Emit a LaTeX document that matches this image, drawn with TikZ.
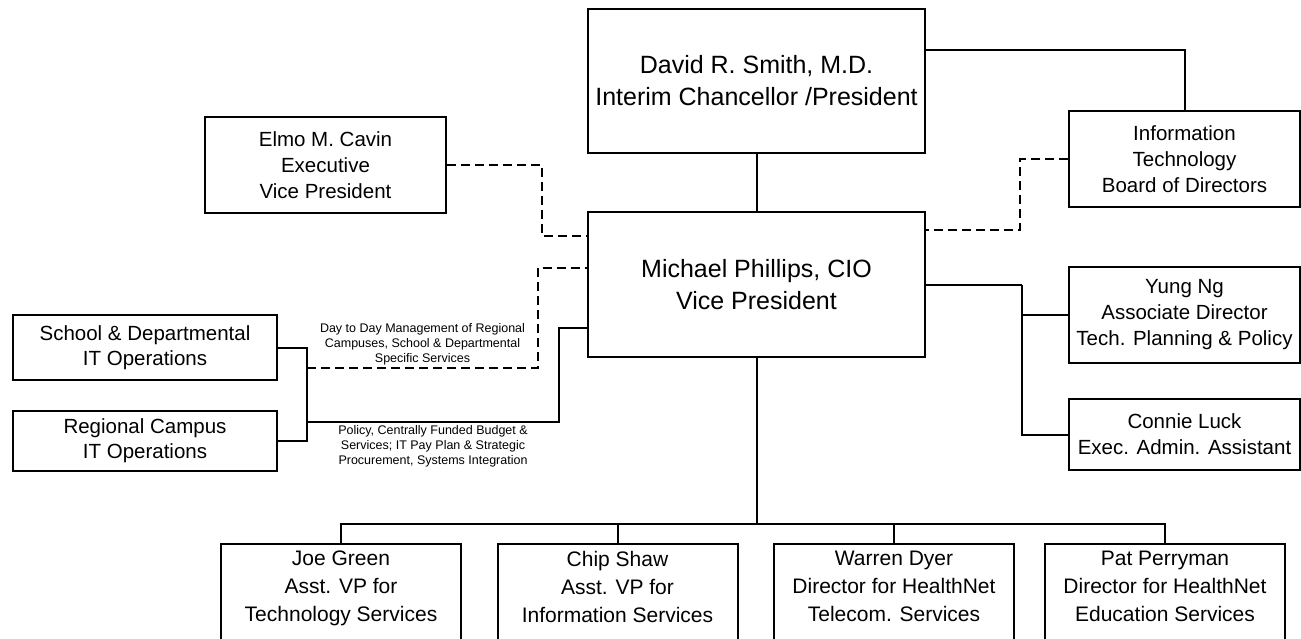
\documentclass[tikz,border=0pt]{standalone}
\usepackage{fontspec}
\setmainfont{Liberation Sans}
\usetikzlibrary{positioning, calc}

\begin{document}
\begin{tikzpicture}[x=1pt,y=-1pt,line width=2pt,
    box/.style={draw, rectangle, align=center, inner sep=0pt},
    bigbox/.style={box, minimum width=337pt, minimum height=144pt, font=\fontsize{25}{32}\selectfont},
    midbox/.style={box, minimum width=231pt, minimum height=96pt, font=\fontsize{20.5}{26}\selectfont},
    unitbox/.style={box, minimum width=264pt, font=\fontsize{20.5}{25}\selectfont},
    lowbox/.style={box, minimum width=240pt, minimum height=110pt, anchor=north},
    lowtext/.style={anchor=north, align=center, inner sep=0pt, yshift=-7pt, font=\fontsize{21}{28}\selectfont},
    dotted link/.style={dash pattern=on 9pt off 5pt},
    note/.style={font=\fontsize{12.5}{15}\selectfont, align=center, inner sep=2pt}]
      \useasboundingbox (0,0) rectangle (1301,638);
      \clip (0,0) rectangle (1301,638);
      %
      \node[bigbox] (david) at (756.5,81) {David R. Smith, M.D.\\Interim Chancellor /President};
      \node[bigbox, minimum height=145pt] (michael) at (756.5,284.5) {Michael Phillips, CIO\\Vice President};
      \node[midbox, minimum width=241pt] (elmo) at (325.5,165) {Elmo M. Cavin\\Executive\\Vice President};
      \node[midbox] (itboard) at (1184.5,159) {Information\\Technology\\Board of Directors};
      \node[midbox] (yung) at (1184.5,315) {Yung Ng\\Associate Director\\Tech. Planning \& Policy};
      \node[midbox, minimum height=71pt] (connie) at (1184.5,434.5) {Connie Luck\\Exec. Admin. Assistant};
      \node[unitbox, minimum height=65pt] (school) at (145,347.5) {School \& Departmental\\IT Operations};
      \node[unitbox, minimum height=60pt] (regional) at (145,441) {Regional Campus\\IT Operations};
      %
      \node[lowbox, label={[lowtext]north:{Joe Green\\Asst. VP for\\Technology Services}}] (joe) at (341,543) {};
      \node[lowbox, label={[lowtext]north:{Chip Shaw\\Asst. VP for\\Information Services}}] (chip) at (617.5,543) {};
      \node[lowbox, label={[lowtext]north:{Warren Dyer\\Director for HealthNet\\Telecom. Services}}] (warren) at (894,543) {};
      \node[lowbox, label={[lowtext]north:{Pat Perryman\\Director for HealthNet\\Education Services}}] (pat) at (1165,543) {};

      \draw (david.south) -- (michael.north);
      \draw ($(david.north east)!0.29!(david.south east)$) -| (itboard.north);
      \draw[dotted link] (elmo.east) -- ++(95,0) |- ($(michael.north west)!0.17!(michael.south west)$);
      \draw[dotted link] (itboard.west) -- ++(-48,0) |- ($(michael.north east)!0.13!(michael.south east)$);

      \draw (michael.east) -- ++(96,0) coordinate (staff);
      \draw (staff) |- (yung.west);
      \draw (staff) |- (connie.west);

      \draw (michael.south) -- ++(0,166) coordinate (bus);
      \foreach \unit in {joe, chip, warren, pat}
        \draw (bus) -| (\unit.north);

      \draw (school.east) -- ++(29,0) coordinate (ops) |- (regional.east);
      \coordinate (opsend) at (ops |- regional.east);
      \draw[dotted link] ($(ops)!0.22!(opsend)$) 
      -- node[above,note]{Day to Day Management of Regional\\Campuses, School \& Departmental\\Specific Services} 
      ++(231,0) |- ($(michael.north west)!0.386!(michael.south west)$);
      \draw ($(ops)!0.8!(opsend)$) 
      -- node[below,note]{Policy, Centrally Funded Budget \&\\Services; IT Pay Plan \& Strategic\\Procurement, Systems Integration} 
      ++(252,0) |- ($(michael.north west)!0.793!(michael.south west)$);
  \end{tikzpicture}
\end{document}
